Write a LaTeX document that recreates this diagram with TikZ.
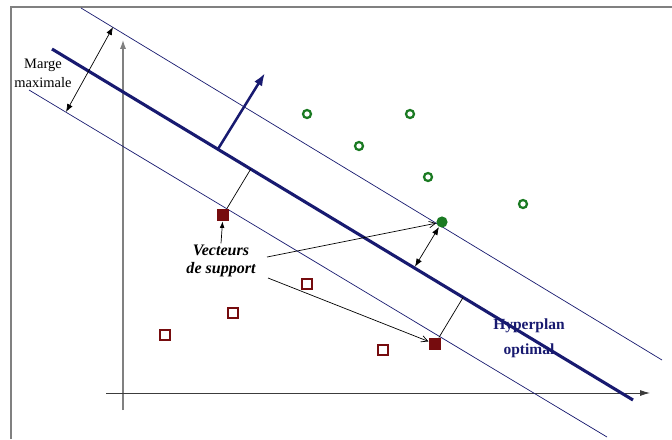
\documentclass[tikz,border=0pt]{standalone}
\usepackage{fontspec}
\setmainfont{Liberation Serif}
\usetikzlibrary{arrows.meta,calc}
\definecolor{svmnavy}{RGB}{24,26,112}
\definecolor{svmgreen}{RGB}{26,122,34}
\definecolor{svmred}{RGB}{118,12,14}
\definecolor{svmframe}{RGB}{128,128,128}
\definecolor{svmaxis}{RGB}{60,60,60}

\begin{document}
\begin{tikzpicture}[
  x=0.25mm, y=-0.25mm,
  hyper/.style={draw=svmnavy, line width=2.2pt},
  margin/.style={draw=svmnavy, line width=0.5pt},
  redpt/.style={draw=svmred, line width=1.5pt, minimum size=2.6mm, inner sep=0pt},
  redsv/.style={fill=svmred, minimum size=3.1mm, inner sep=0pt},
  greenpt/.style={draw=svmgreen, circle, line width=1.6pt, minimum size=2mm, inner sep=0pt},
  greensv/.style={fill=svmgreen, circle, minimum size=2.8mm, inner sep=0pt},
  dimarrow/.style={{Latex[length=2mm,width=1.5mm]}-{Latex[length=2mm,width=1.5mm]}, line width=0.5pt},
  pointer/.style={-{Straight Barb[length=1.6mm,width=1.6mm]}, line width=0.5pt},
  perp/.style={line width=0.5pt},
  normalvec/.style={-{Latex[length=3.2mm,width=2.3mm]}, draw=svmnavy, line width=1.8pt},
  marge/.style={align=center, font=\fontsize{10.3}{13.5}\selectfont},
  vslbl/.style={align=center, inner sep=1pt, font=\fontsize{11.4}{12.8}\selectfont\bfseries\itshape},
  hyperlbl/.style={align=center, text=svmnavy, font=\fontsize{11}{17.8}\selectfont\bfseries}
]
\fill[white] (0,0) rectangle (672,439);
\useasboundingbox (0,0) rectangle (672,439);
\draw[svmframe, line width=0.9pt] (11,439) -- (11,7) -- (672,7);

% axes
\draw[svmframe, line width=0.8pt, -{Latex[length=2.2mm,width=1.5mm]}] (123,410) -- (123,40);
\draw[svmaxis, line width=0.6pt, -{Latex[length=2.5mm,width=1.5mm]}] (106,393) -- (650,393);

% hyperplane and margins
\coordinate (hA) at (52,49);  \coordinate (hB) at (633,400);
\coordinate (uA) at (81,8);   \coordinate (uB) at (662,360);
\coordinate (lA) at (29,90);  \coordinate (lB) at (607,437);
\draw[margin] (uA) -- (uB);
\draw[margin] (lA) -- (lB);
\draw[hyper] (hA) -- (hB);

\coordinate (nA) at (218,149);
\coordinate (nB) at (265,73);
\draw[normalvec] (nA) -- (nB);

\coordinate (mT) at (113,27);
\coordinate (mB) at (66,112);
\draw[dimarrow] (mT) -- (mB);
\node[marge] (marge) at (43,73) {Marge\\maximale};

% points
\node[redpt] (r1) at (165,335) {};
\node[redpt] (r2) at (233,313) {};
\node[redpt] (r3) at (307,284) {};
\node[redpt] (r4) at (383,350) {};
\node[redsv] (sv1) at (223,215) {};
\node[redsv] (sv2) at (435,344) {};
\node[greenpt] (g1) at (307,114) {};
\node[greenpt] (g2) at (410,114) {};
\node[greenpt] (g3) at (359,146) {};
\node[greenpt] (g4) at (428,177) {};
\node[greenpt] (g5) at (523,204) {};
\node[greensv] (sv3) at (442,222) {};

\draw[perp] (sv1) -- ($(hA)!(sv1)!(hB)$);
\draw[perp] (sv2) -- ($(hA)!(sv2)!(hB)$);
\draw[dimarrow, shorten >=1pt] (sv3) -- ($(hA)!(sv3)!(hB)$);

\node[vslbl] (vecsup) at (221,261) {Vecteurs\\de support};
\coordinate (p1) at (267,257);
\coordinate (p2) at (268,278);
\draw[line width=0.5pt, -{Latex[length=1.6mm,width=1.2mm]}] (vecsup.north) -- (sv1);
\draw[pointer] (p1) -- (sv3);
\draw[pointer] (p2) -- (sv2);

\node[hyperlbl] (hyp) at (529,338) {Hyperplan\\optimal};
\end{tikzpicture}
\end{document}
